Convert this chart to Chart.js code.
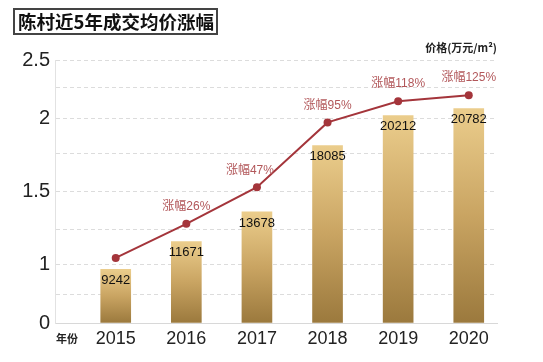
<!DOCTYPE html>
<html>
<head>
<meta charset="utf-8">
<script src="https://cdn.jsdelivr.net/npm/chart.js@4.4.1/dist/chart.umd.min.js"></script>
<style>
  body { margin: 0; background: #fff; }
  #wrap { position: relative; width: 543px; height: 362px; font-family: 'Liberation Sans', 'Noto Sans CJK SC', sans-serif; }
  #title {
    position: absolute; left: 13px; top: 8px; width: 198px; height: 23px;
    border: 2px solid #444; font: bold 18.5px 'Noto Sans CJK SC', sans-serif;
    line-height: 23px; color: #111; padding-left: 3px; white-space: nowrap;
  }
  #unit { position: absolute; right: 46px; top: 39px; font: bold 11px 'Noto Sans CJK SC', sans-serif; color: #222; }
  #xname { position: absolute; left: 56px; top: 330px; font: bold 11px 'Noto Sans CJK SC', sans-serif; color: #222; }
</style>
</head>
<body>
<div id="wrap">
  <canvas id="priceChart" width="543" height="362"></canvas>
  <div id="title">陈村近5年成交均价涨幅</div>
  <div id="unit">价格(万元/m²)</div>
  <div id="xname">年份</div>
</div>
<script>
    // data
    const years = [2015, 2016, 2017, 2018, 2019, 2020];
    const avgPrice = [9242, 11671, 13678, 18085, 20212, 20782];      // 元/m²
    const trendLine = [1.05, 1.29, 1.53, 1.97, 2.14, 2.19];         // 万元/m²
    const growth = [null, 26, 47, 95, 118, 125];                     // 涨幅 %
    const yTicks = [0, 0.5, 1, 1.25, 1.5, 1.75, 2, 2.25, 2.5];
    const yLabelled = [0, 1, 1.5, 2, 2.5];

    // the original axis is not evenly spaced (broken below 1), so map value -> height piecewise
    const knotVal = [0, 0.5, 1, 1.25, 1.5, 1.75, 2, 2.25, 2.5];
    const knotPos = [0, 0.110, 0.221, 0.354, 0.499, 0.643, 0.779, 0.894, 1];

    function toFrac(v) {
        if (v <= knotVal[0]) return knotPos[0];
        for (let i = 1; i < knotVal.length; i++) {
            if (v <= knotVal[i]) {
                const t = (v - knotVal[i - 1]) / (knotVal[i] - knotVal[i - 1]);
                return knotPos[i - 1] + t * (knotPos[i] - knotPos[i - 1]);
            }
        }
        const n = knotVal.length - 1;
        return knotPos[n] + (v - knotVal[n]) * (knotPos[n] - knotPos[n - 1]) / (knotVal[n] - knotVal[n - 1]);
    }
    function fromFrac(f) {
        for (let i = 1; i < knotPos.length; i++) {
            if (f <= knotPos[i]) {
                const t = (f - knotPos[i - 1]) / (knotPos[i] - knotPos[i - 1]);
                return knotVal[i - 1] + t * (knotVal[i] - knotVal[i - 1]);
            }
        }
        return knotVal[knotVal.length - 1];
    }

    class BrokenScale extends Chart.LinearScale {
        getPixelForValue(value) {
            return value === null ? NaN : this.getPixelForDecimal(toFrac(value));
        }
        getValueForPixel(pixel) {
            return fromFrac(this.getDecimalForPixel(pixel));
        }
    }
    BrokenScale.id = 'broken';
    BrokenScale.defaults = Chart.LinearScale.defaults;
    Chart.register(BrokenScale);

    const FONT = "'Liberation Sans', 'Noto Sans CJK SC', sans-serif";

    // bar value labels + 涨幅 labels
    const labelPlugin = {
        id: 'labels',
        afterDatasetsDraw(chart) {
            const ctx = chart.ctx;
            ctx.save();
            ctx.textAlign = 'center';
            ctx.textBaseline = 'middle';
            ctx.font = '13px ' + FONT;
            ctx.fillStyle = '#111';
            chart.getDatasetMeta(0).data.forEach((bar, i) => {
                ctx.fillText(avgPrice[i], bar.x, bar.y + 11);
            });
            ctx.font = '12px ' + FONT;
            ctx.fillStyle = '#b2575a';
            chart.getDatasetMeta(1).data.forEach((pt, i) => {
                if (growth[i] == null) return;
                ctx.fillText('涨幅' + growth[i] + '%', pt.x - (i === 2 ? 7 : 0), pt.y - 17);
            });
            ctx.restore();
        }
    };

    new Chart(document.getElementById('priceChart'), {
        type: 'bar',
        data: {
            datasets: [{
                label: '成交均价',
                data: years.map((y, i) => ({ x: y, y: avgPrice[i] / 10000 })),
                barThickness: 30,
                order: 2,
                backgroundColor: function(c) {
                    const area = c.chart.chartArea;
                    if (!area || !c.raw) return '#c9a560';
                    const top = c.chart.scales.y.getPixelForValue(c.raw.y);
                    const g = c.chart.ctx.createLinearGradient(0, top, 0, area.bottom);
                    g.addColorStop(0, '#ebcd8c');
                    g.addColorStop(0.5, '#c9a462');
                    g.addColorStop(1, '#9b793d');
                    return g;
                }
            }, {
                type: 'line',
                label: '涨幅',
                data: years.map((y, i) => ({ x: y, y: trendLine[i] })),
                order: 1,
                borderColor: '#a4353b',
                borderWidth: 2,
                pointRadius: 4,
                pointBackgroundColor: '#a4353b',
                pointBorderWidth: 0,
                tension: 0
            }]
        },
        options: {
            responsive: false,
            animation: false,
            layout: { padding: { top: 60, right: 46, left: 0, bottom: 0 } },
            plugins: {
                legend: { display: false },
                tooltip: { enabled: false }
            },
            scales: {
                x: {
                    type: 'linear',
                    offset: false,
                    min: 2014.14,
                    max: 2020.4,
                    afterBuildTicks: s => { s.ticks = years.map(v => ({ value: v })); },
                    afterFit: s => { s.height = 39; },
                    grid: { display: false, drawTicks: false },
                    border: { display: true, color: '#d8d8d8', width: 1 },
                    ticks: {
                        padding: 5,
                        color: '#222',
                        font: { family: FONT, size: 18 },
                        callback: v => String(v)
                    }
                },
                y: {
                    type: 'broken',
                    min: 0,
                    max: 2.5,
                    afterBuildTicks: s => { s.ticks = yTicks.map(v => ({ value: v })); },
                    afterFit: s => { s.width = 55; },
                    grid: { color: '#dcdcdc', lineWidth: 1, drawTicks: false },
                    border: { display: true, color: '#e2e2e2', width: 1, dash: [4, 3] },
                    ticks: {
                        padding: 5,
                        color: '#222',
                        font: { family: FONT, size: 20 },
                        callback: v => yLabelled.includes(v) ? String(v) : ''
                    }
                }
            }
        },
        plugins: [labelPlugin]
    });
</script>
</body>
</html>
